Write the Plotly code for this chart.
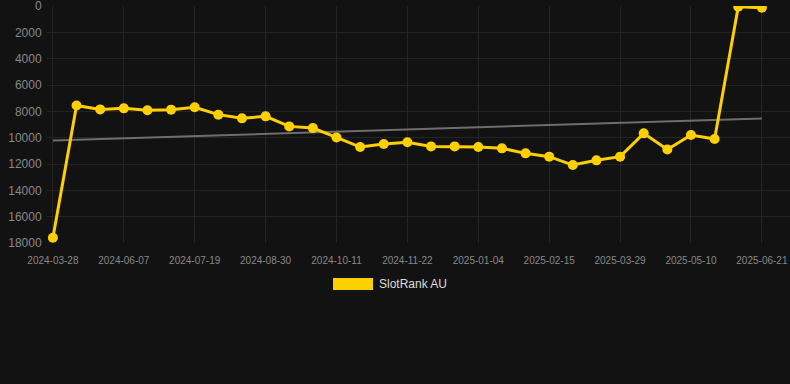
import numpy as np
import plotly.graph_objects as go

dates = [
    "2024-03-28", "2024-05-10", "2024-05-24", "2024-06-07", "2024-06-21",
    "2024-07-05", "2024-07-19", "2024-08-02", "2024-08-16", "2024-08-30",
    "2024-09-13", "2024-09-27", "2024-10-11", "2024-10-25", "2024-11-08",
    "2024-11-22", "2024-12-06", "2024-12-20", "2025-01-04", "2025-01-18",
    "2025-02-01", "2025-02-15", "2025-03-01", "2025-03-15", "2025-03-29",
    "2025-04-12", "2025-04-26", "2025-05-10", "2025-05-24", "2025-06-07",
    "2025-06-21",
]
rank_au = [
    17600, 7550, 7850, 7770, 7920, 7870, 7690, 8250, 8530, 8380,
    9140, 9270, 9980, 10710, 10480, 10350, 10660, 10660, 10710, 10810,
    11190, 11440, 12080, 11720, 11440, 9670, 10890, 9800, 10100, 50,
    130,
]
tick_dates = dates[::3]
y_ticks = [0, 2000, 4000, 6000, 8000, 10000, 12000, 14000, 16000, 18000]
series_name = "SlotRank AU"

idx = np.arange(len(rank_au))
slope, intercept = np.polyfit(idx, np.array(rank_au, dtype=float), 1)
trend = slope * idx + intercept

YELLOW = "#FFD000"
BG = "#121212"
GRID = "#242424"
TICK = "#888888"
FONT = "Liberation Sans, Arial, sans-serif"

fig = go.Figure()
fig.add_trace(go.Scatter(
    x=dates, y=trend.tolist(), mode="lines",
    line=dict(color="#6e6e6e", width=2),
    hoverinfo="skip", showlegend=False,
))
fig.add_trace(go.Scatter(
    x=dates, y=rank_au, mode="lines+markers", name=series_name,
    line=dict(color=YELLOW, width=3),
    marker=dict(color=YELLOW, size=10),
    showlegend=False,
))

fig.update_layout(
    width=790, height=384,
    paper_bgcolor=BG, plot_bgcolor=BG,
    margin=dict(l=47, r=0, t=6, b=141, pad=0),
    font=dict(family=FONT, color=TICK),
    showlegend=False,
    xaxis=dict(
        type="category",
        categoryorder="array", categoryarray=dates,
        range=[-0.25, 31.19],
        tickmode="array", tickvals=tick_dates, ticktext=tick_dates,
        tickfont=dict(size=10, color=TICK),
        showgrid=True, gridcolor=GRID, gridwidth=1,
        ticks="outside", ticklen=8, tickcolor="rgba(0,0,0,0)",
        showline=False, zeroline=False,
        ticklabeloverflow="allow",
    ),
    yaxis=dict(
        range=[18000, -5],
        tickmode="array", tickvals=y_ticks,
        ticktext=[str(v) for v in y_ticks],
        tickfont=dict(size=12, color=TICK),
        showgrid=True, gridcolor=GRID, gridwidth=1,
        ticks="outside", ticklen=2, tickcolor="rgba(0,0,0,0)",
        showline=False, zeroline=False,
        ticklabeloverflow="allow",
    ),
    shapes=[dict(
        type="rect", xref="paper", yref="paper",
        x0=(333 - 47) / 743, x1=(373 - 47) / 743,
        y0=(243 - 290) / 237, y1=(243 - 278) / 237,
        fillcolor=YELLOW, line=dict(width=0),
    )],
    annotations=[dict(
        text=series_name, xref="paper", yref="paper",
        x=(377 - 47) / 743, y=(243 - 284) / 237,
        xanchor="left", yanchor="middle", showarrow=False,
        font=dict(family=FONT, size=12, color="#dddddd"),
    )],
)

fig.write_html(
    "out.html",
    config={"displayModeBar": False},
    post_script="document.body.style.margin='0';document.body.style.background='#121212';document.body.style.overflow='hidden';",
)
